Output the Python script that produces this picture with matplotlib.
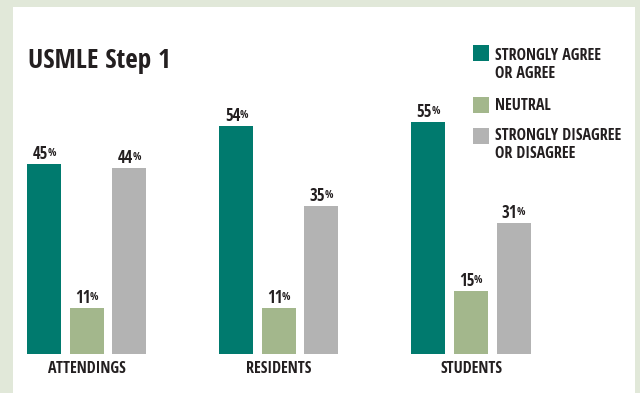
import matplotlib
matplotlib.use("Agg")
import matplotlib.pyplot as plt
from matplotlib.patches import Rectangle
from matplotlib import font_manager as fm
import matplotlib.transforms as mtransforms

categories = ["ATTENDINGS", "RESIDENTS", "STUDENTS"]
series_names = ["STRONGLY AGREE\nOR AGREE", "NEUTRAL", "STRONGLY DISAGREE\nOR DISAGREE"]
agree = [45, 54, 55]
neutral = [11, 11, 15]
disagree = [44, 35, 31]
title = "USMLE Step 1"

colors = ["#007a6e", "#a3b78c", "#b3b3b3"]
bg = "#e1e8d9"
txt = "#231f20"

names = {f.name for f in fm.fontManager.ttflist}
fam = None
for cand in ["Liberation Sans Narrow", "Open Sans Condensed", "Roboto Condensed", "DejaVu Sans Condensed"]:
    if cand in names:
        fam = cand
        break
if fam is None:
    fam = "DejaVu Sans"
plt.rcParams['font.family'] = [fam, 'DejaVu Sans']

W, H = 640, 393
fig = plt.figure(figsize=(W / 100, H / 100), dpi=100)
fig.patch.set_facecolor(bg)
fig.patches.append(Rectangle((13 / W, 0), (635 - 13) / W, (H - 7) / H,
                             transform=fig.transFigure, facecolor="white",
                             edgecolor="none", zorder=-5))

# axes: x px 13..635, y px 7..354 (baseline)
ax = fig.add_axes([13 / W, (H - 354) / H, (635 - 13) / W, (354 - 7) / H])
ax.set_zorder(2)
ax.patch.set_alpha(0)
for s in ax.spines.values():
    s.set_visible(False)
ax.set_xticks([])
ax.set_yticks([])
ax.set_ylim(0, 347 / 4.22)
ax.set_xlim(-0.385, 2.854)

off = 0.2214
width = 0.177
series = [agree, neutral, disagree]
for i, vals in enumerate(series):
    xs = [g + (i - 1) * off for g in range(len(categories))]
    ax.bar(xs, vals, width=width, color=colors[i], zorder=2)
    for x, v in zip(xs, vals):
        tr = mtransforms.offset_copy(ax.transData, fig=fig, x=-4, y=5, units='dots')
        t = ax.text(x, v, str(v), transform=tr, ha='center', va='baseline',
                    fontsize=12, fontweight='bold', color=txt, clip_on=False)
        ax.annotate('%', xy=(1, 1), xycoords=t, xytext=(-0.6, -2.2), textcoords='offset points',
                    ha='left', va='top', fontsize=8, color=txt, annotation_clip=False)

for g, c in enumerate(categories):
    ax.text(g, 0, c, transform=mtransforms.offset_copy(ax.transData, fig=fig, x=0, y=-19, units='dots'),
            ha='center', va='baseline', fontsize=11.5, fontweight='bold', color=txt, clip_on=False)

fig.text(28 / W, 1 - 68 / H, title, ha='left', va='baseline', fontsize=19.5,
         fontweight='bold', color=txt)

# legend
leg_sq_y = [45, 97, 128]
leg_txt_y = [60, 110, 140]
for i in range(3):
    fig.patches.append(Rectangle((473 / W, 1 - (leg_sq_y[i] + 16) / H), 16 / W, 16 / H,
                                 transform=fig.transFigure, facecolor=colors[i],
                                 edgecolor="none", zorder=3))
    fig.text(495 / W, 1 - leg_txt_y[i] / H, series_names[i].split("\n")[0], ha='left',
             va='baseline', fontsize=11.5, fontweight='bold', color=txt)
    if "\n" in series_names[i]:
        fig.text(495 / W, 1 - (leg_txt_y[i] + 18) / H, series_names[i].split("\n")[1],
                 ha='left', va='baseline', fontsize=11.5, fontweight='bold', color=txt)

fig.savefig("out.png", dpi=100, facecolor=bg)
